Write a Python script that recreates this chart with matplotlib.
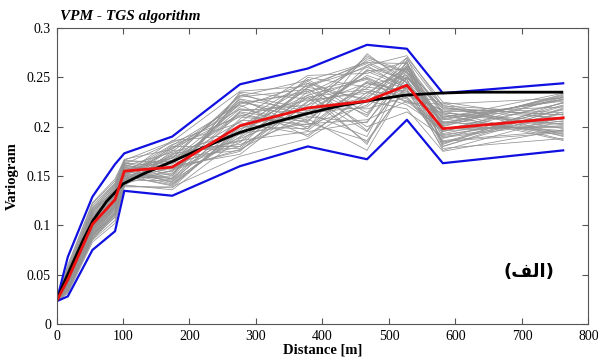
import numpy as np
import matplotlib.pyplot as plt

# lag distances [m]
lags = [0, 17, 54, 88, 102, 174, 276, 378, 467, 527, 581, 762]

# envelope of the realizations
upper = [0.023, 0.068, 0.129, 0.162, 0.173, 0.190, 0.243, 0.259, 0.283, 0.279, 0.234, 0.244]
lower = [0.023, 0.028, 0.075, 0.094, 0.135, 0.130, 0.160, 0.180, 0.167, 0.207, 0.163, 0.176]

# experimental variogram of the data
red = [0.023, 0.045, 0.101, 0.126, 0.155, 0.159, 0.201, 0.219, 0.226, 0.242, 0.198, 0.209]

# fitted model
model_d = [0, 10, 20, 30, 40, 55, 75, 100, 130, 175, 225, 275, 325, 375, 425, 475, 525, 575, 625, 700, 760]
model_g = [0.023, 0.040, 0.055, 0.070, 0.085, 0.105, 0.124, 0.142, 0.152, 0.165, 0.180, 0.194,
           0.204, 0.213, 0.221, 0.227, 0.232, 0.234, 0.235, 0.235, 0.235]

# realizations
sims = [
    [.023, .040, .095, .120, .150, .160, .200, .232, .195, .250, .205, .196],
    [.023, .045, .105, .130, .155, .147, .215, .205, .262, .238, .188, .222],
    [.023, .035, .088, .110, .142, .172, .185, .240, .228, .262, .214, .205],
    [.023, .050, .112, .138, .160, .152, .228, .198, .245, .228, .195, .230],
    [.023, .038, .092, .115, .145, .180, .180, .222, .268, .255, .222, .190],
    [.023, .055, .118, .142, .165, .165, .205, .246, .210, .266, .180, .215],
    [.023, .042, .100, .125, .150, .141, .195, .212, .256, .240, .210, .226],
    [.023, .032, .085, .105, .140, .175, .222, .190, .235, .222, .198, .200],
    [.023, .048, .108, .132, .158, .158, .175, .236, .182, .258, .218, .212],
    [.023, .044, .102, .128, .152, .168, .232, .218, .272, .248, .185, .194],
    [.023, .036, .090, .118, .146, .145, .190, .250, .240, .236, .207, .228],
    [.023, .052, .115, .135, .162, .184, .210, .202, .222, .270, .192, .208],
    [.023, .040, .096, .122, .148, .150, .235, .228, .250, .232, .216, .187],
    [.023, .046, .104, .126, .154, .170, .186, .195, .205, .252, .202, .232],
    [.023, .034, .086, .112, .140, .138, .200, .242, .264, .245, .176, .210],
    [.023, .058, .122, .145, .166, .162, .218, .214, .190, .268, .220, .198],
    [.023, .043, .098, .124, .151, .176, .178, .230, .238, .226, .195, .224],
    [.023, .039, .094, .119, .147, .155, .226, .206, .258, .242, .212, .203],
    [.023, .049, .110, .134, .159, .143, .196, .248, .214, .260, .183, .218],
    [.023, .037, .091, .113, .144, .178, .212, .200, .246, .234, .224, .192],
    [.023, .053, .114, .140, .163, .160, .172, .225, .270, .256, .200, .233],
    [.023, .041, .097, .121, .149, .148, .230, .238, .200, .215, .190, .206],
    [.023, .045, .103, .129, .153, .182, .204, .192, .232, .264, .215, .220],
    [.023, .033, .087, .108, .141, .136, .188, .216, .252, .238, .178, .188],
    [.023, .047, .106, .131, .156, .166, .220, .244, .226, .250, .208, .227],
    [.023, .039, .093, .117, .146, .173, .182, .208, .176, .244, .196, .201],
    [.023, .051, .113, .137, .161, .154, .224, .234, .262, .272, .221, .214],
    [.023, .042, .099, .123, .150, .140, .198, .220, .218, .230, .186, .196],
    [.023, .036, .089, .111, .143, .164, .214, .196, .242, .252, .204, .230],
    [.023, .044, .101, .127, .152, .186, .192, .240, .266, .246, .211, .191],
    [.023, .054, .117, .141, .164, .150, .234, .210, .204, .260, .193, .217],
    [.023, .038, .092, .116, .145, .169, .176, .226, .236, .232, .217, .209],
    [.023, .046, .105, .130, .155, .144, .208, .252, .254, .266, .182, .225],
    [.023, .041, .098, .122, .149, .179, .218, .204, .186, .240, .205, .195],
    [.023, .048, .109, .133, .157, .157, .184, .232, .248, .224, .223, .229],
    [.023, .035, .089, .114, .143, .171, .228, .216, .230, .256, .189, .204],
    [.023, .043, .100, .125, .151, .146, .200, .198, .274, .244, .209, .234],
    [.023, .050, .111, .136, .160, .174, .194, .238, .212, .262, .199, .199],
    [.023, .040, .095, .120, .148, .152, .216, .222, .244, .236, .184, .221],
    [.023, .045, .103, .128, .153, .163, .180, .244, .196, .250, .219, .212],
    [.023, .060, .123, .147, .167, .177, .225, .213, .257, .258, .213, .186],
    [.023, .031, .083, .102, .139, .139, .170, .188, .226, .218, .175, .197],
    [.023, .047, .107, .133, .158, .168, .231, .247, .265, .264, .203, .231],
    [.023, .037, .090, .112, .145, .159, .189, .230, .184, .242, .191, .213],
    [.023, .052, .116, .139, .162, .147, .206, .209, .239, .270, .225, .207],
    [.023, .042, .097, .120, .150, .181, .223, .236, .249, .230, .197, .224],
    [.023, .034, .086, .109, .142, .156, .177, .214, .220, .254, .208, .193],
    [.023, .056, .120, .143, .166, .185, .236, .241, .260, .248, .180, .219],
    [.023, .044, .101, .126, .153, .142, .193, .203, .207, .226, .214, .202],
    [.023, .039, .094, .118, .147, .166, .211, .227, .234, .260, .201, .228],
]

plt.rcParams['font.family'] = ['Liberation Serif', 'DejaVu Serif']

fig = plt.figure(figsize=(5.98, 3.62), dpi=100)
ax = fig.add_axes([0.0945, 0.105, 0.8895, 0.8175])

for s in sims:
    ax.plot(lags, s, color='#939393', lw=0.55)
ax.plot(lags, upper, color='#1010e0', lw=1.6)
ax.plot(lags, lower, color='#1010e0', lw=1.6)
ax.plot(model_d, model_g, color='black', lw=2)
ax.plot(lags, red, color='#ee1111', lw=2)

ax.set_xlim(0, 800)
ax.set_ylim(0, 0.3)
ax.set_xticks([0, 100, 200, 300, 400, 500, 600, 700, 800])
ax.set_yticks([0, 0.05, 0.1, 0.15, 0.2, 0.25, 0.3])
ax.set_yticklabels(['0', '0.05', '0.1', '0.15', '0.2', '0.25', '0.3'])
ax.tick_params(direction='in', top=True, right=True, labelsize=10, length=4,
               color='#555555', pad=4)
for sp in ax.spines.values():
    sp.set_color('#555555')
    sp.set_linewidth(0.8)

ax.set_xlabel('Distance [m]', fontweight='bold', fontsize=10.5, labelpad=1)
ax.set_ylabel('Variogram', fontweight='bold', fontsize=10.5, labelpad=6)
fig.text(0.1, 0.955, 'VPM - TGS algorithm', fontweight='bold', style='italic',
         fontsize=11, ha='left', va='center')

# "(الف)" written with presentation forms in visual order (no shaping in matplotlib)
ax.text(710, 0.053, '(\ufed2\ufedf\ufe8d)', family=['DejaVu Sans'], fontweight='bold',
        fontsize=13, ha='center', va='center')

fig.savefig('out.png', dpi=100)
